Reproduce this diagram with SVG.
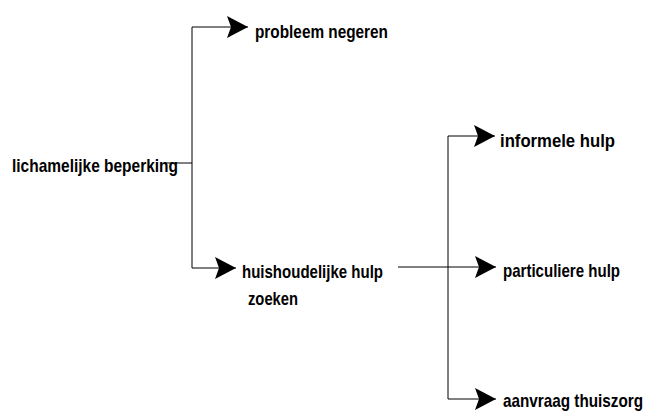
<svg xmlns="http://www.w3.org/2000/svg" width="646" height="412" viewBox="0 0 646 412">
  <style>
    .lbl { font-family: "Liberation Sans", Arial, sans-serif; font-weight: bold; font-size: 19px; fill: #000; }
    .ln { stroke: #000; stroke-width: 1; fill: none; }
  </style>
  <defs>
    <marker id="arr" markerUnits="userSpaceOnUse" markerWidth="21" markerHeight="22" refX="21" refY="11" orient="auto" viewBox="0 0 21 22">
      <path d="M0,0 L21,11 L0,22 L4,11 z" fill="#000"/>
    </marker>
  </defs>
  <rect width="646" height="412" fill="#fff"/>
  <g id="connectors">
    <path class="ln" d="M165,163 H192"/>
    <path class="ln" d="M192,27 V268"/>
    <path class="ln" d="M192,27 H248" marker-end="url(#arr)"/>
    <path class="ln" d="M192,268 H236" marker-end="url(#arr)"/>
    <path class="ln" d="M398,267 H496" marker-end="url(#arr)"/>
    <path class="ln" d="M448,136 V399"/>
    <path class="ln" d="M448,136 H495" marker-end="url(#arr)"/>
    <path class="ln" d="M448,399 H496" marker-end="url(#arr)"/>
  </g>
  <g id="node-lichamelijke">
    <text class="lbl" x="12" y="172" textLength="166" lengthAdjust="spacingAndGlyphs">lichamelijke beperking</text>
  </g>
  <g id="node-probleem">
    <text class="lbl" x="255" y="38" textLength="133" lengthAdjust="spacingAndGlyphs">probleem negeren</text>
  </g>
  <g id="node-huishoudelijke">
    <text class="lbl" x="242" y="278" textLength="141" lengthAdjust="spacingAndGlyphs">huishoudelijke hulp</text>
    <text class="lbl" x="248" y="305" textLength="50" lengthAdjust="spacingAndGlyphs">zoeken</text>
  </g>
  <g id="node-informele">
    <text class="lbl" x="500" y="147" textLength="115" lengthAdjust="spacingAndGlyphs">informele hulp</text>
  </g>
  <g id="node-particuliere">
    <text class="lbl" x="503" y="277" textLength="117" lengthAdjust="spacingAndGlyphs">particuliere hulp</text>
  </g>
  <g id="node-aanvraag">
    <text class="lbl" x="503" y="407" textLength="140" lengthAdjust="spacingAndGlyphs">aanvraag thuiszorg</text>
  </g>
</svg>
